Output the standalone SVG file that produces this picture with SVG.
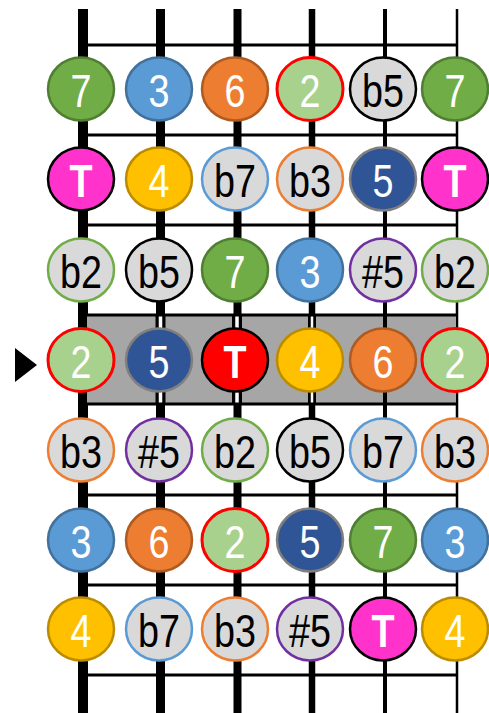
<svg xmlns="http://www.w3.org/2000/svg" width="489" height="713" viewBox="0 0 489 713">
<style>
.bg{fill:#ffffff}
.fret{stroke:#000;stroke-width:3}
.str{stroke:#000}
.n ellipse{stroke-width:2.5}
.n text{font-family:"Liberation Sans",Arial,sans-serif;font-size:46px;text-anchor:middle}
.w text{fill:#fff}
.k text{fill:#000}
.s7 ellipse{fill:#70ad47;stroke:#507e32}
.s3 ellipse{fill:#5b9bd5;stroke:#41719c}
.s6 ellipse{fill:#ed7d31;stroke:#ae5a21}
.s2 ellipse{fill:#a9d18e;stroke:#ff0000;stroke-width:3}
.s5 ellipse{fill:#2f5597;stroke:#7f7f7f}
.s4 ellipse{fill:#ffc000;stroke:#bc8c00}
.sT ellipse{fill:#ff33cc;stroke:#000}
.sR ellipse{fill:#ff0000;stroke:#000}
.sT text,.sR text{font-weight:bold}
.sb5 ellipse{fill:#d9d9d9;stroke:#000}
.sb7 ellipse{fill:#d9d9d9;stroke:#5b9bd5}
.sb3 ellipse{fill:#d9d9d9;stroke:#ed7d31}
.sb2 ellipse{fill:#d9d9d9;stroke:#70ad47}
.ss5 ellipse{fill:#d9d9d9;stroke:#7030a0}
</style>
<rect class="bg" x="0" y="0" width="489" height="713"/>
<g id="fretboard">
<g id="strings">
<line class="str" x1="83" y1="9" x2="83" y2="713" stroke-width="10"/>
<line class="str" x1="160.5" y1="9" x2="160.5" y2="713" stroke-width="9"/>
<line class="str" x1="237.5" y1="9" x2="237.5" y2="713" stroke-width="8"/>
<line class="str" x1="312" y1="9" x2="312" y2="713" stroke-width="6.5"/>
<line class="str" x1="385" y1="9" x2="385" y2="713" stroke-width="4"/>
<line class="str" x1="457" y1="9" x2="457" y2="713" stroke-width="2.5"/>
</g>
<rect id="highlight" x="87" y="315" width="369" height="89" fill="#a6a6a6"/>
<g id="strings-in-highlight">
<line x1="160.5" y1="315" x2="160.5" y2="404" stroke="#000" stroke-width="10"/>
<line x1="160.5" y1="315" x2="160.5" y2="404" stroke="#fff" stroke-width="3.5"/>
<line x1="237" y1="315" x2="237" y2="404" stroke="#000" stroke-width="10"/>
<line x1="237" y1="315" x2="237" y2="404" stroke="#fff" stroke-width="3.5"/>
<line x1="312" y1="315" x2="312" y2="404" stroke="#000" stroke-width="8"/>
<line x1="312" y1="315" x2="312" y2="404" stroke="#fff" stroke-width="2.5"/>
<line class="str" x1="385" y1="315" x2="385" y2="404" stroke-width="4"/>
</g>
<g id="frets">
<line class="fret" x1="86" y1="45" x2="458" y2="45"/>
<line class="fret" x1="86" y1="135" x2="458" y2="135"/>
<line class="fret" x1="86" y1="225" x2="458" y2="225"/>
<line class="fret" x1="86" y1="315" x2="458" y2="315"/>
<line class="fret" x1="86" y1="404" x2="458" y2="404"/>
<line class="fret" x1="86" y1="495" x2="458" y2="495"/>
<line class="fret" x1="86" y1="585" x2="458" y2="585"/>
<line class="fret" x1="86" y1="675" x2="458" y2="675"/>
</g>
</g>
<polygon id="marker" points="15,348 37,365 15,382" fill="#000"/>
<g id="notes">
<!-- row 1 -->
<g id="n1-1" class="n w s7" transform="translate(81,89)"><ellipse rx="33" ry="31.5"/><text transform="scale(0.82,1)" y="17.5">7</text></g>
<g id="n1-2" class="n w s3" transform="translate(159,89)"><ellipse rx="33" ry="31.5"/><text transform="scale(0.82,1)" y="17.5">3</text></g>
<g id="n1-3" class="n w s6" transform="translate(235,89)"><ellipse rx="33" ry="31.5"/><text transform="scale(0.82,1)" y="17.5">6</text></g>
<g id="n1-4" class="n w s2" transform="translate(310,89)"><ellipse rx="33" ry="31.5"/><text transform="scale(0.82,1)" y="17.5">2</text></g>
<g id="n1-5" class="n k sb5" transform="translate(383,89)"><ellipse rx="33" ry="31.5"/><text transform="scale(0.82,1)" y="17.5">b5</text></g>
<g id="n1-6" class="n w s7" transform="translate(455,89)"><ellipse rx="33" ry="31.5"/><text transform="scale(0.82,1)" y="17.5">7</text></g>
<!-- row 2 -->
<g id="n2-1" class="n w sT" transform="translate(81,179)"><ellipse rx="33" ry="31.5"/><text transform="scale(0.82,1)" y="17.5">T</text></g>
<g id="n2-2" class="n w s4" transform="translate(159,179)"><ellipse rx="33" ry="31.5"/><text transform="scale(0.82,1)" y="17.5">4</text></g>
<g id="n2-3" class="n k sb7" transform="translate(235,179)"><ellipse rx="33" ry="31.5"/><text transform="scale(0.82,1)" y="17.5">b7</text></g>
<g id="n2-4" class="n k sb3" transform="translate(310,179)"><ellipse rx="33" ry="31.5"/><text transform="scale(0.82,1)" y="17.5">b3</text></g>
<g id="n2-5" class="n w s5" transform="translate(383,179)"><ellipse rx="33" ry="31.5"/><text transform="scale(0.82,1)" y="17.5">5</text></g>
<g id="n2-6" class="n w sT" transform="translate(455,179)"><ellipse rx="33" ry="31.5"/><text transform="scale(0.82,1)" y="17.5">T</text></g>
<!-- row 3 -->
<g id="n3-1" class="n k sb2" transform="translate(81,270)"><ellipse rx="33" ry="31.5"/><text transform="scale(0.82,1)" y="17.5">b2</text></g>
<g id="n3-2" class="n k sb5" transform="translate(159,270)"><ellipse rx="33" ry="31.5"/><text transform="scale(0.82,1)" y="17.5">b5</text></g>
<g id="n3-3" class="n w s7" transform="translate(235,270)"><ellipse rx="33" ry="31.5"/><text transform="scale(0.82,1)" y="17.5">7</text></g>
<g id="n3-4" class="n w s3" transform="translate(310,270)"><ellipse rx="33" ry="31.5"/><text transform="scale(0.82,1)" y="17.5">3</text></g>
<g id="n3-5" class="n k ss5" transform="translate(383,270)"><ellipse rx="33" ry="31.5"/><text transform="scale(0.82,1)" y="17.5">#5</text></g>
<g id="n3-6" class="n k sb2" transform="translate(455,270)"><ellipse rx="33" ry="31.5"/><text transform="scale(0.82,1)" y="17.5">b2</text></g>
<!-- row 4 -->
<g id="n4-1" class="n w s2" transform="translate(81,360)"><ellipse rx="33" ry="31.5"/><text transform="scale(0.82,1)" y="17.5">2</text></g>
<g id="n4-2" class="n w s5" transform="translate(159,360)"><ellipse rx="33" ry="31.5"/><text transform="scale(0.82,1)" y="17.5">5</text></g>
<g id="n4-3" class="n w sR" transform="translate(235,360)"><ellipse rx="33" ry="31.5"/><text transform="scale(0.82,1)" y="17.5">T</text></g>
<g id="n4-4" class="n w s4" transform="translate(310,360)"><ellipse rx="33" ry="31.5"/><text transform="scale(0.82,1)" y="17.5">4</text></g>
<g id="n4-5" class="n w s6" transform="translate(383,360)"><ellipse rx="33" ry="31.5"/><text transform="scale(0.82,1)" y="17.5">6</text></g>
<g id="n4-6" class="n w s2" transform="translate(455,360)"><ellipse rx="33" ry="31.5"/><text transform="scale(0.82,1)" y="17.5">2</text></g>
<!-- row 5 -->
<g id="n5-1" class="n k sb3" transform="translate(81,450)"><ellipse rx="33" ry="31.5"/><text transform="scale(0.82,1)" y="17.5">b3</text></g>
<g id="n5-2" class="n k ss5" transform="translate(159,450)"><ellipse rx="33" ry="31.5"/><text transform="scale(0.82,1)" y="17.5">#5</text></g>
<g id="n5-3" class="n k sb2" transform="translate(235,450)"><ellipse rx="33" ry="31.5"/><text transform="scale(0.82,1)" y="17.5">b2</text></g>
<g id="n5-4" class="n k sb5" transform="translate(310,450)"><ellipse rx="33" ry="31.5"/><text transform="scale(0.82,1)" y="17.5">b5</text></g>
<g id="n5-5" class="n k sb7" transform="translate(383,450)"><ellipse rx="33" ry="31.5"/><text transform="scale(0.82,1)" y="17.5">b7</text></g>
<g id="n5-6" class="n k sb3" transform="translate(455,450)"><ellipse rx="33" ry="31.5"/><text transform="scale(0.82,1)" y="17.5">b3</text></g>
<!-- row 6 -->
<g id="n6-1" class="n w s3" transform="translate(81,540)"><ellipse rx="33" ry="31.5"/><text transform="scale(0.82,1)" y="17.5">3</text></g>
<g id="n6-2" class="n w s6" transform="translate(159,540)"><ellipse rx="33" ry="31.5"/><text transform="scale(0.82,1)" y="17.5">6</text></g>
<g id="n6-3" class="n w s2" transform="translate(235,540)"><ellipse rx="33" ry="31.5"/><text transform="scale(0.82,1)" y="17.5">2</text></g>
<g id="n6-4" class="n w s5" transform="translate(310,540)"><ellipse rx="33" ry="31.5"/><text transform="scale(0.82,1)" y="17.5">5</text></g>
<g id="n6-5" class="n w s7" transform="translate(383,540)"><ellipse rx="33" ry="31.5"/><text transform="scale(0.82,1)" y="17.5">7</text></g>
<g id="n6-6" class="n w s3" transform="translate(455,540)"><ellipse rx="33" ry="31.5"/><text transform="scale(0.82,1)" y="17.5">3</text></g>
<!-- row 7 -->
<g id="n7-1" class="n w s4" transform="translate(81,629)"><ellipse rx="33" ry="31.5"/><text transform="scale(0.82,1)" y="17.5">4</text></g>
<g id="n7-2" class="n k sb7" transform="translate(159,629)"><ellipse rx="33" ry="31.5"/><text transform="scale(0.82,1)" y="17.5">b7</text></g>
<g id="n7-3" class="n k sb3" transform="translate(235,629)"><ellipse rx="33" ry="31.5"/><text transform="scale(0.82,1)" y="17.5">b3</text></g>
<g id="n7-4" class="n k ss5" transform="translate(310,629)"><ellipse rx="33" ry="31.5"/><text transform="scale(0.82,1)" y="17.5">#5</text></g>
<g id="n7-5" class="n w sT" transform="translate(383,629)"><ellipse rx="33" ry="31.5"/><text transform="scale(0.82,1)" y="17.5">T</text></g>
<g id="n7-6" class="n w s4" transform="translate(455,629)"><ellipse rx="33" ry="31.5"/><text transform="scale(0.82,1)" y="17.5">4</text></g>
</g>
</svg>
